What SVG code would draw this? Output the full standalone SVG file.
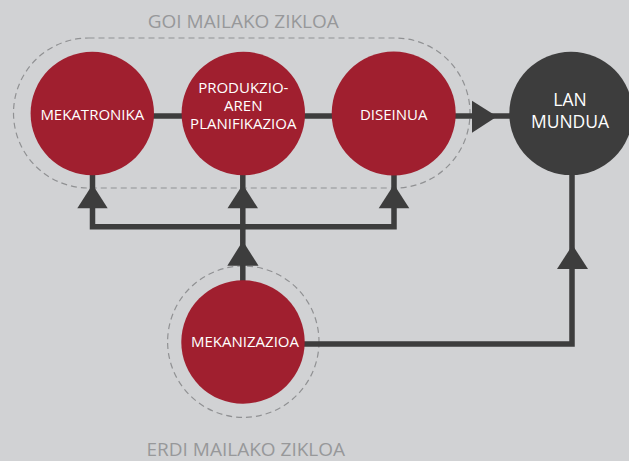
<svg xmlns="http://www.w3.org/2000/svg" width="629" height="461" viewBox="0 0 629 461">
<style>
.bg{fill:#d1d2d4}
.dash{fill:none;stroke:#909193;stroke-width:1.2;stroke-dasharray:6 4}
.cap{font-family:"Open Sans","Liberation Sans",sans-serif;font-size:19px;fill:#97989a;text-anchor:middle}
.line{fill:none;stroke:#3d3d3d;stroke-width:5.5}
.head{fill:#3d3d3d}
.red{fill:#a01f2f}
.dark{fill:#3d3d3d}
.lbl{font-family:"Open Sans","Liberation Sans",sans-serif;font-size:15px;fill:#ffffff;text-anchor:middle}
.lbl2{font-family:"Open Sans","Liberation Sans",sans-serif;font-size:17.5px;fill:#ffffff;text-anchor:middle}
</style>
<rect class="bg" x="0" y="0" width="629" height="461"/>
<g id="groups">
<rect class="dash" x="13.5" y="38" width="456.5" height="150" rx="75" ry="75"/>
<circle class="dash" cx="243.3" cy="341.7" r="75.7"/>
<text class="cap" x="243.3" y="28.3">GOI MAILAKO ZIKLOA</text>
<text class="cap" x="245.8" y="456">ERDI MAILAKO ZIKLOA</text>
</g>
<g id="connectors">
<line class="line" x1="92" y1="116" x2="510" y2="116"/>
<polygon class="head" points="472,100.7 472,132.7 497,116.5"/>
<polyline class="line" points="92.5,175 92.5,226.8 394,226.8 394,175"/>
<line class="line" x1="242.8" y1="175" x2="242.8" y2="282"/>
<polygon class="head" points="77.3,208.3 107.7,208.3 92.5,184.5"/>
<polygon class="head" points="227.5,208.3 258,208.3 242.8,184.5"/>
<polygon class="head" points="378.7,208.3 409.3,208.3 394,184.5"/>
<polygon class="head" points="227.3,265.7 258.5,265.7 242.8,241"/>
<polyline class="line" points="300,344 572,344 572,175"/>
<polygon class="head" points="557,269 588,269 572.5,245"/>
</g>
<g id="node-mekatronika">
<circle class="red" cx="92.3" cy="113.5" r="61.7"/>
<text class="lbl" x="92.3" y="120.3">MEKATRONIKA</text>
</g>
<g id="node-produkzio">
<circle class="red" cx="243.3" cy="113.5" r="61.7"/>
<text class="lbl" x="243.3" y="92.7">PRODUKZIO-</text>
<text class="lbl" x="243.3" y="111">AREN</text>
<text class="lbl" x="243.3" y="129.3">PLANIFIKAZIOA</text>
</g>
<g id="node-diseinua">
<circle class="red" cx="393.7" cy="113.5" r="62"/>
<text class="lbl" x="393.7" y="120.3">DISEINUA</text>
</g>
<g id="node-lan-mundua">
<circle class="dark" cx="571" cy="113.4" r="61.7"/>
<text class="lbl2" x="570" y="106">LAN</text>
<text class="lbl2" x="570" y="127.7">MUNDUA</text>
</g>
<g id="node-mekanizazioa">
<circle class="red" cx="243" cy="342" r="61.7"/>
<text class="lbl" x="245" y="347.3">MEKANIZAZIOA</text>
</g>
</svg>
